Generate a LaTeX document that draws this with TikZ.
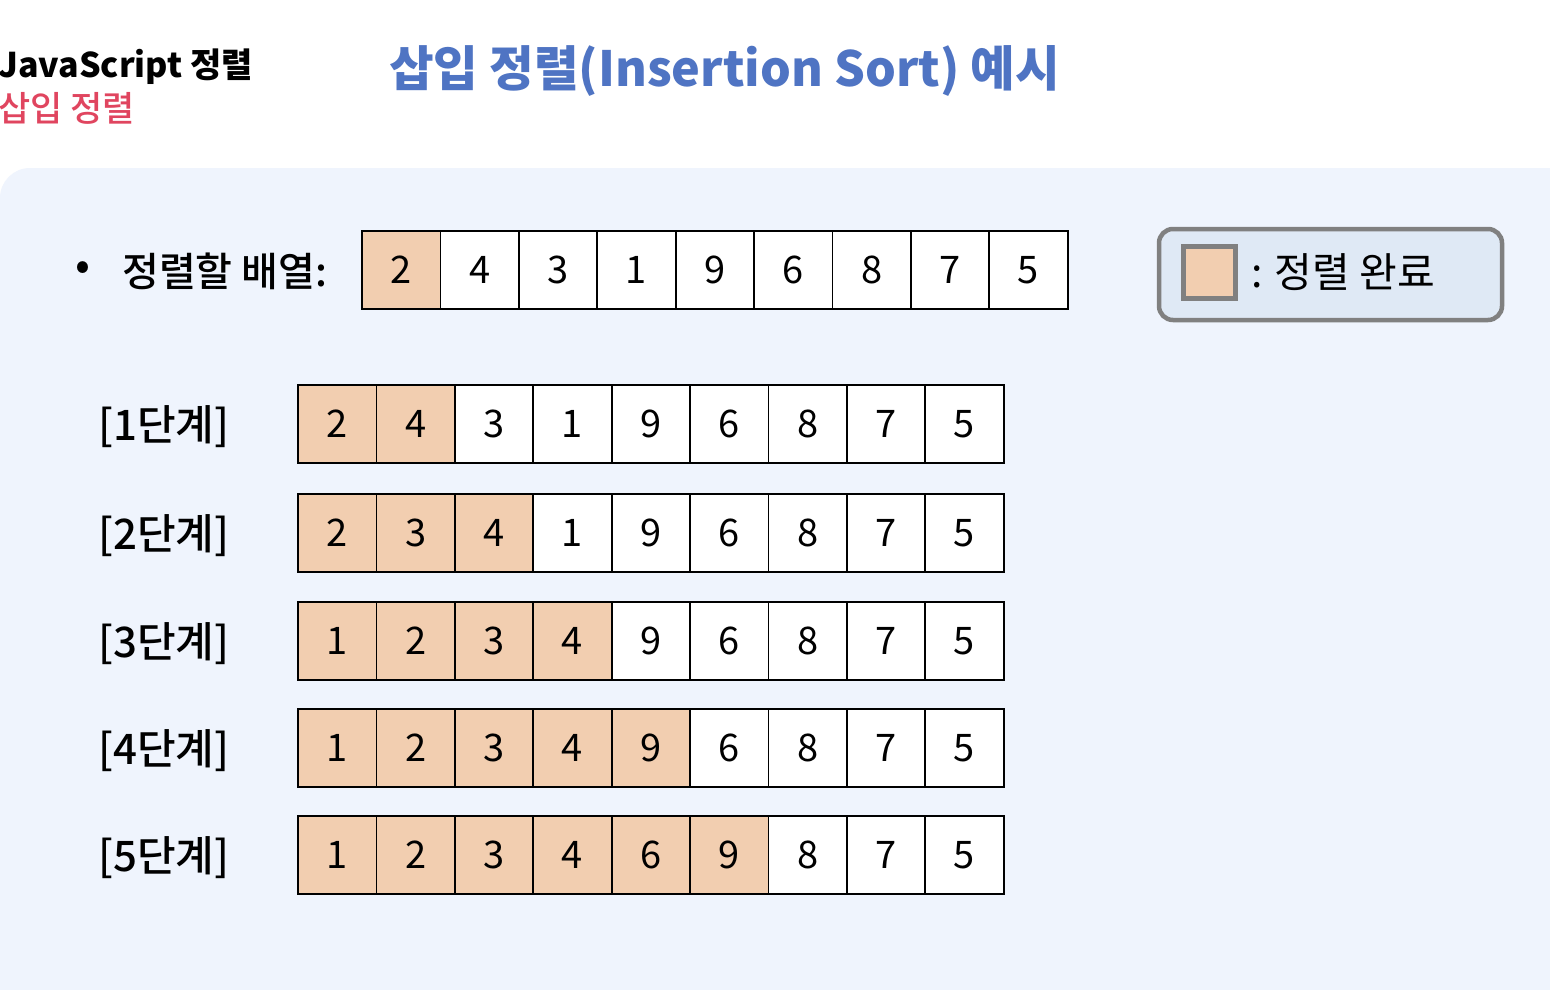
\documentclass[tikz,border=0pt]{standalone}
\usepackage{fontspec}
\setmainfont{Noto Sans CJK KR}
\newfontfamily\medfont{Noto Sans CJK KR Medium}
\definecolor{panel}{HTML}{EFF4FD}
\definecolor{peach}{HTML}{F2CEB0}
\definecolor{titleblue}{HTML}{4F74C3}
\definecolor{subred}{HTML}{E0455F}
\definecolor{legfill}{HTML}{DFE9F5}
\definecolor{leggray}{HTML}{808080}
\tikzset{
  cell/.style={draw=black,line width=1.8pt,minimum width=78.4pt,minimum height=78pt,inner sep=0pt,font=\fontsize{38}{44}\selectfont},
  steplabel/.style={font=\fontsize{42}{48}\selectfont\medfont,inner sep=0pt},
}
\newcommand\cellrow[5]{%
  \foreach \v [count=\i] in {#5}{%
    \ifnum\i>#4\relax\def\cf{white}\else\def\cf{peach}\fi
    \node[cell,fill=\cf] (#1-\i) at ({#2+78.4*(\i-0.5)},#3) {\v};
  }%
}
\begin{document}
\begin{tikzpicture}[x=1pt,y=-1pt]
\useasboundingbox (0,0) rectangle (1550,990);
\fill[white] (0,0) rectangle (1550,990);
\fill[panel,rounded corners=30pt] (0,168) rectangle (1600,1040);
% titles
\node[anchor=west,inner sep=0pt,font=\fontsize{34}{40}\selectfont\bfseries] (t1) at (-2,67) {JavaScript 정렬};
\node[anchor=west,inner sep=0pt,font=\fontsize{35}{40}\selectfont\medfont,text=subred] (t2) at (-2,108) {삽입 정렬};
\node[anchor=west,inner sep=0pt,font=\fontsize{48.5}{56}\selectfont\bfseries,text=titleblue] (t3) at (389,71) {삽입 정렬(Insertion Sort) 예시};
% input array
\node[inner sep=0pt,font=\fontsize{44}{50}\selectfont] (bullet) at (83,271) {•};
\node[anchor=west,inner sep=0pt,font=\fontsize{40}{46}\selectfont\medfont] (arrlab) at (122,271) {정렬할 배열:};
\cellrow{r0}{362}{270}{1}{2,4,3,1,9,6,8,7,5}
% legend
\node[draw=leggray,fill=legfill,line width=4.5pt,rounded corners=14pt,minimum width=343pt,minimum height=91pt] (legend) at (1330.5,274.5) {};
\node[draw=leggray,fill=peach,line width=4.5pt,minimum size=52pt,inner sep=0pt] (legsq) at (1209.5,272.5) {};
\node[anchor=west,inner sep=0pt,font=\fontsize{41}{46}\selectfont] (legtext) at (1251,272) {: 정렬 완료};
% steps
\node[steplabel] (s1) at (164,427) {[1단계]};
\cellrow{r1}{298}{424}{2}{2,4,3,1,9,6,8,7,5}
\node[steplabel] (s2) at (164,536) {[2단계]};
\cellrow{r2}{298}{533}{3}{2,3,4,1,9,6,8,7,5}
\node[steplabel] (s3) at (164,644) {[3단계]};
\cellrow{r3}{298}{641}{4}{1,2,3,4,9,6,8,7,5}
\node[steplabel] (s4) at (164,751) {[4단계]};
\cellrow{r4}{298}{748}{5}{1,2,3,4,9,6,8,7,5}
\node[steplabel] (s5) at (164,858) {[5단계]};
\cellrow{r5}{298}{855}{6}{1,2,3,4,6,9,8,7,5}
\end{tikzpicture}
\end{document}
